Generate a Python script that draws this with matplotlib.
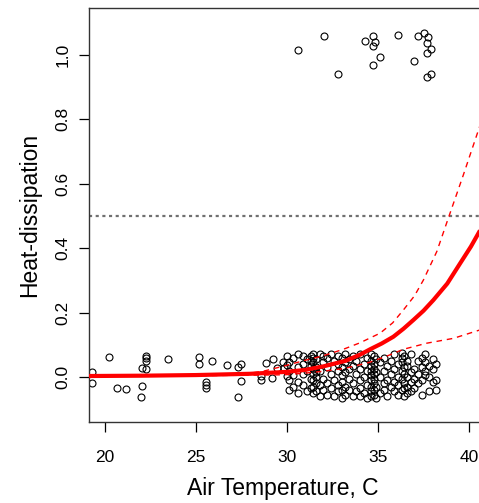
import matplotlib
matplotlib.use("Agg")
import matplotlib.pyplot as plt

plt.rcParams['font.family'] = ['Liberation Sans', 'DejaVu Sans']

# ---- observations near 0 (jittered) ----
temp_zero = [20.24, 22.24, 22.24, 22.24, 22.05, 22.27, 23.45, 19.30, 19.30, 20.64,
             21.15, 22.05, 21.98, 25.18, 25.18, 25.88, 26.70, 27.29, 27.46, 25.55,
             25.55, 25.55, 27.46, 27.29, 28.57, 28.57, 29.18, 28.85, 29.21, 29.47,
             29.80, 29.98, 29.98, 29.85, 29.98,
             30.1, 30.1, 30.1, 30.1, 30.3, 30.3, 30.3, 30.6, 30.6, 30.6, 30.6,
             30.9, 30.9, 30.9, 30.9, 31.1, 31.1, 31.1,
             31.3, 31.3, 31.3, 31.3, 31.3,
             31.45, 31.45, 31.45, 31.45, 31.45, 31.45, 31.45, 31.45,
             31.6, 31.6, 31.6, 31.6, 31.6, 31.6,
             31.8, 31.8, 31.8, 31.8, 32.0, 32.0, 32.0, 32.0,
             32.2, 32.2, 32.2, 32.2, 32.4, 32.4, 32.4, 32.6, 32.6, 32.6,
             32.8, 32.8, 32.8, 32.8, 32.8,
             33.0, 33.0, 33.0, 33.0, 33.0, 33.0,
             33.2, 33.2, 33.2, 33.2, 33.2, 33.4, 33.4, 33.4, 33.4,
             33.6, 33.6, 33.6, 33.6, 33.8, 33.8, 33.8,
             34.0, 34.0, 34.0, 34.0, 34.0, 34.2, 34.2, 34.2,
             34.4, 34.4, 34.4, 34.4,
             34.6, 34.6, 34.6, 34.6, 34.6, 34.6, 34.6, 34.6, 34.6,
             34.75, 34.75, 34.75, 34.75, 34.75, 34.75, 34.75, 34.75,
             34.9, 34.9, 34.9, 34.9, 35.1, 35.1, 35.1,
             35.3, 35.3, 35.3, 35.3, 35.5, 35.5, 35.5, 35.7, 35.7, 35.7,
             35.9, 35.9, 35.9, 35.9, 36.1, 36.1, 36.1, 36.1,
             36.3, 36.3, 36.3, 36.3, 36.3, 36.3,
             36.45, 36.45, 36.45, 36.45, 36.45, 36.45,
             36.6, 36.6, 36.6, 36.6, 36.6, 36.8, 36.8, 36.8, 36.8,
             37.0, 37.0, 37.0, 37.2, 37.2, 37.2,
             37.4, 37.4, 37.4, 37.4, 37.6, 37.6, 37.6, 37.6,
             37.8, 37.8, 37.8, 38.0, 38.0, 38.0, 38.2, 38.2, 38.2]
dissip_zero = [0.061, 0.065, 0.058, 0.051, 0.027, 0.024, 0.055, 0.016, -0.020, -0.035,
               -0.038, -0.028, -0.061, 0.061, 0.040, 0.051, 0.036, 0.032, 0.040, -0.015,
               -0.025, -0.035, -0.011, -0.063, 0.003, -0.009, -0.004, 0.044, 0.055, 0.028,
               0.048, 0.065, 0.037, 0.029, 0.003,
               0.045, -0.010, 0.020, -0.040, 0.060, 0.005, -0.030, 0.030, -0.050, 0.070, -0.015,
               0.040, 0.010, -0.025, 0.065, -0.045, 0.020, 0.055,
               0.065, 0.035, -0.005, -0.035, 0.050,
               0.060, 0.045, 0.025, 0.010, -0.010, -0.030, -0.050, 0.070,
               0.055, 0.030, 0.000, -0.020, -0.045, 0.015,
               0.070, -0.060, 0.020, -0.025, 0.045, -0.005, -0.040, 0.065,
               0.030, -0.020, 0.060, -0.055, 0.070, 0.010, -0.035, 0.050, -0.010, -0.060,
               0.040, 0.020, -0.025, -0.045, 0.065,
               0.060, 0.030, 0.005, -0.015, -0.040, -0.065,
               0.070, 0.045, -0.030, -0.055, 0.015, 0.055, -0.005, -0.040, 0.025,
               0.065, 0.035, -0.020, -0.060, 0.050, 0.010, -0.045,
               0.070, 0.025, -0.010, -0.035, -0.060, 0.040, 0.000, -0.050,
               0.060, 0.020, -0.025, -0.065,
               0.070, 0.050, 0.035, 0.020, 0.005, -0.010, -0.030, -0.045, -0.060,
               0.065, 0.040, 0.025, 0.010, -0.005, -0.020, -0.040, -0.055,
               0.055, 0.015, -0.030, -0.065, 0.045, 0.000, -0.050,
               0.060, 0.020, -0.020, -0.040, 0.035, -0.010, -0.060, 0.050, 0.010, -0.030,
               0.070, 0.025, -0.015, -0.045, 0.040, -0.025, -0.055, 0.000,
               0.075, 0.060, 0.045, 0.020, -0.005, -0.040,
               0.065, 0.030, 0.010, -0.020, -0.035, -0.060,
               0.050, 0.035, 0.000, -0.030, -0.050, 0.070, 0.015, -0.015, -0.045,
               0.025, -0.005, -0.035, 0.050, 0.010, -0.020,
               0.060, 0.030, -0.010, -0.055, 0.070, 0.045, 0.020, 0.005,
               0.035, 0.000, -0.045, 0.055, 0.025, -0.015, 0.040, -0.040, -0.010]

# ---- observations near 1 (jittered) ----
temp_one = [30.59, 32.02, 32.82, 34.29, 34.71, 34.85, 34.71, 35.09, 34.71, 36.12,
            37.00, 37.21, 37.53, 37.73, 37.69, 37.93, 37.69, 37.91, 37.69]
dissip_one = [1.016, 1.059, 0.941, 1.044, 1.059, 1.039, 1.027, 0.993, 0.969, 1.061,
              0.981, 1.059, 1.067, 1.055, 1.038, 1.018, 1.005, 0.941, 0.931]

# ---- fitted curve and confidence band ----
fit_t = [19.0, 22.0, 25.0, 28.0, 30.0, 31.0, 32.0, 33.2, 34.0, 34.56, 35.2, 35.84,
         36.4, 36.94, 37.5, 38.04, 38.8, 39.51, 40.1, 40.7]
fit_p = [0.003, 0.004, 0.006, 0.010, 0.016, 0.022, 0.033, 0.050, 0.069, 0.086, 0.104, 0.125,
         0.150, 0.177, 0.206, 0.239, 0.290, 0.353, 0.405, 0.465]
upper_t = [19.0, 25.0, 28.0, 28.7, 29.9, 31.0, 32.0, 33.09, 34.0, 35.11, 35.8, 36.39,
           37.0, 37.49, 38.23, 38.9, 39.67, 40.7]
upper_p = [0.004, 0.007, 0.012, 0.018, 0.035, 0.052, 0.066, 0.086, 0.106, 0.136, 0.168, 0.208,
           0.252, 0.301, 0.390, 0.500, 0.625, 0.798]
lower_t = [19.0, 25.0, 28.7, 29.9, 31.0, 32.0, 33.2, 34.5, 35.4, 36.39, 37.68, 39.14, 40.7]
lower_p = [0.002, 0.004, 0.006, 0.007, 0.012, 0.018, 0.027, 0.045, 0.063, 0.086, 0.105, 0.120, 0.148]

x_ticks = [20, 25, 30, 35, 40]
y_ticks = [0.0, 0.2, 0.4, 0.6, 0.8, 1.0]
y_ticklabels = ["0.0", "0.2", "0.4", "0.6", "0.8", "1.0"]

fig = plt.figure(figsize=(4.79, 5.03), dpi=100)
W, H = 479, 503
ax = fig.add_axes([89 / W, (H - 422) / H, (480 - 89) / W, (422 - 8) / H])

ax.axhline(0.5, color="#707070", lw=1.6, ls=(0, (1.4, 1.6)), zorder=1)
ax.plot(temp_zero, dissip_zero, ls="none", marker="o", ms=5, mfc="none",
        mec="black", mew=0.8, zorder=2)
ax.plot(temp_one, dissip_one, ls="none", marker="o", ms=5, mfc="none",
        mec="black", mew=0.8, zorder=2)
ax.plot(fit_t, fit_p, color="red", lw=3, solid_capstyle="butt", zorder=3)
ax.plot(upper_t, upper_p, color="red", lw=1.0, ls=(0, (4, 3.5)), zorder=3)
ax.plot(lower_t, lower_p, color="red", lw=1.0, ls=(0, (4, 3.5)), zorder=3)

ax.set_xlim(19.12, 40.6)
ax.set_ylim(-0.1398, 1.146)
ax.set_xticks(x_ticks)
ax.set_yticks(y_ticks)
ax.set_yticklabels(y_ticklabels, rotation=90, va="center")
ax.tick_params(axis="both", direction="out", length=7.5, width=0.9, labelsize=12.5, color="black")
ax.tick_params(axis="x", pad=13)
ax.tick_params(axis="y", pad=6)
for s in ax.spines.values():
    s.set_color("#333333")
    s.set_linewidth(1.0)

ax.set_xlabel("Air Temperature, C", fontsize=16.5)
ax.set_ylabel("Heat-dissipation", fontsize=16.5)
ax.xaxis.set_label_coords((283 - 89) / 391, (422 - 488) / 414)
ax.xaxis.label.set_va("center")
ax.yaxis.set_label_coords((30 - 89) / 391, 0.5)
ax.yaxis.label.set_va("center")

fig.savefig("out.png", dpi=100)
